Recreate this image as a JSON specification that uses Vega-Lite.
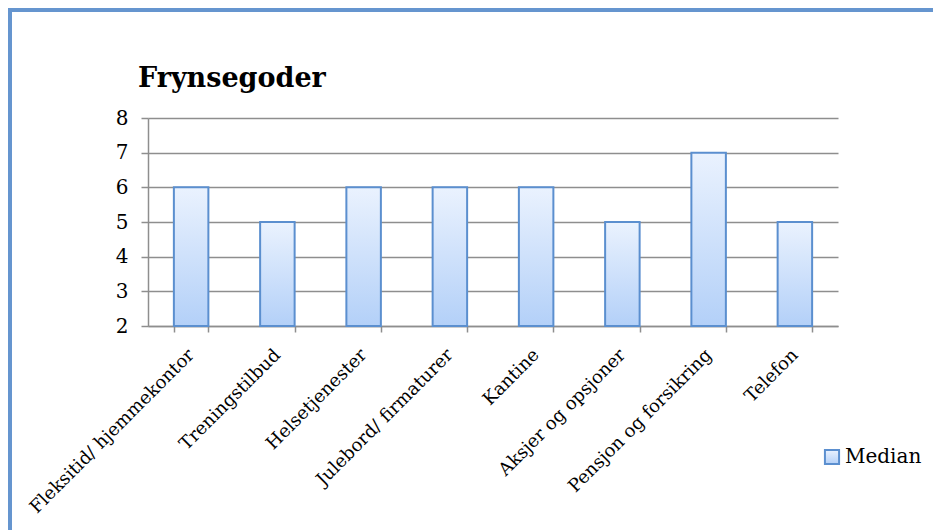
{
  "$schema": "https://vega.github.io/schema/vega-lite/v6.json",
  "autosize": {"type": "none"},
  "padding": {"left": 10, "top": 10, "right": 0, "bottom": 0},
  "width": 923,
  "height": 520,
  "background": "white",
  "config": {
    "font": "DejaVu Serif",
    "view": {"stroke": "#6595cf", "strokeWidth": 4, "strokeDash": [923, 1443, 520]}
  },
  "title": {
    "text": "Frynsegoder",
    "orient": "top",
    "anchor": "start",
    "frame": "group",
    "baseline": "alphabetic",
    "offset": -77,
    "dx": 128,
    "dy": 27,
    "font": "DejaVu Serif",
    "fontSize": 27,
    "fontWeight": "bold",
    "color": "black"
  },
  "data": {
    "values": [
      {"gode": "Fleksitid/ hjemmekontor", "median": 6, "serie": "Median"},
      {"gode": "Treningstilbud", "median": 5, "serie": "Median"},
      {"gode": "Helsetjenester", "median": 6, "serie": "Median"},
      {"gode": "Julebord/ firmaturer", "median": 6, "serie": "Median"},
      {"gode": "Kantine", "median": 6, "serie": "Median"},
      {"gode": "Aksjer og opsjoner", "median": 5, "serie": "Median"},
      {"gode": "Pensjon og forsikring", "median": 7, "serie": "Median"},
      {"gode": "Telefon", "median": 5, "serie": "Median"}
    ]
  },
  "mark": {
    "type": "bar",
    "fill": {
      "gradient": "linear",
      "x1": 0, "y1": 0, "x2": 0, "y2": 1,
      "stops": [
        {"offset": 0, "color": "#eaf2fe"},
        {"offset": 1, "color": "#b3d0f8"}
      ]
    },
    "fillOpacity": 1,
    "strokeWidth": 2
  },
  "encoding": {
    "x": {
      "field": "gode",
      "type": "nominal",
      "sort": null,
      "scale": {"range": [138, 828], "paddingInner": 0.6, "paddingOuter": 0.3},
      "axis": {
        "title": null,
        "offset": -204,
        "tickBand": "extent",
        "labelAngle": -45,
        "labelAlign": "right",
        "labelBaseline": "middle",
        "labelLimit": 0,
        "labelFont": "DejaVu Serif",
        "labelFontSize": 18,
        "labelColor": "black",
        "labelPadding": 20,
        "domainColor": "#8e8e8e",
        "domainWidth": 1.5,
        "tickColor": "#8e8e8e",
        "tickWidth": 1.5,
        "tickSize": 6
      }
    },
    "y": {
      "field": "median",
      "type": "quantitative",
      "scale": {"domain": [2, 8], "range": [316, 108], "nice": false, "zero": false},
      "axis": {
        "title": null,
        "offset": -138,
        "values": [2, 3, 4, 5, 6, 7, 8],
        "grid": true,
        "gridColor": "#8e8e8e",
        "gridWidth": 1.5,
        "domainColor": "#8e8e8e",
        "domainWidth": 1.5,
        "tickColor": "#8e8e8e",
        "tickWidth": 1.5,
        "tickSize": 7,
        "labelFont": "DejaVu Serif",
        "labelFontSize": 20,
        "labelColor": "black",
        "labelPadding": 13
      }
    },
    "y2": {"datum": 2},
    "stroke": {
      "field": "serie",
      "type": "nominal",
      "scale": {"range": ["#5b8fcf"]},
      "legend": {
        "title": null,
        "orient": "none",
        "legendX": 812,
        "legendY": 437,
        "symbolType": "square",
        "symbolSize": 200,
        "symbolStrokeWidth": 2,
        "symbolFillColor": "#cfe0fa",
        "labelFont": "DejaVu Serif",
        "labelFontSize": 20,
        "labelColor": "black",
        "labelOffset": 3
      }
    }
  }
}
